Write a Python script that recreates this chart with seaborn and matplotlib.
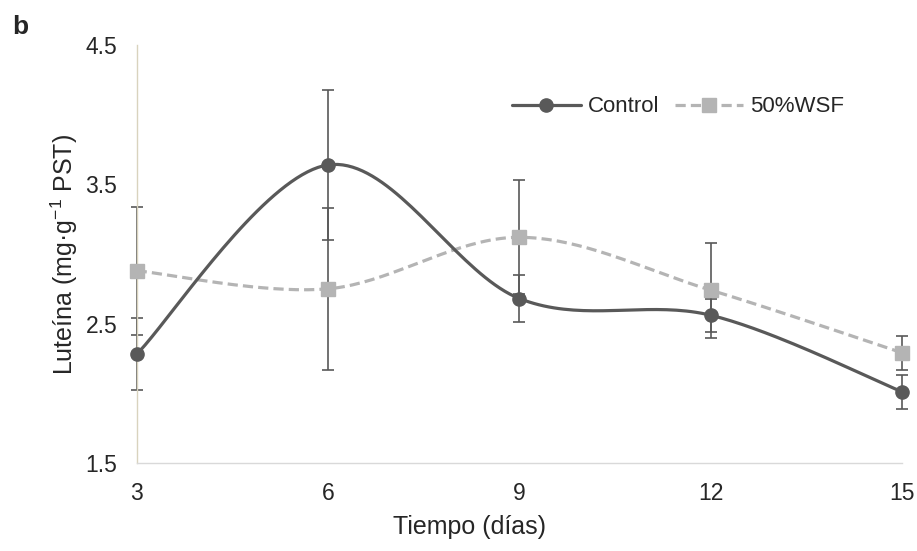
import numpy as np
import matplotlib
matplotlib.use("Agg")
import matplotlib.pyplot as plt
from matplotlib.lines import Line2D
import seaborn as sns

# datos
dias = [3, 6, 9, 12, 15]
control = [2.28, 3.64, 2.68, 2.56, 2.01]
control_err = [0.26, 0.54, 0.17, 0.12, 0.12]
wsf = [2.88, 2.75, 3.12, 2.74, 2.29]
wsf_err = [0.46, 0.58, 0.41, 0.34, 0.12]

COL_CONTROL = "#595959"
COL_WSF = "#b4b4b4"


def suavizar(x, y, n=40):
    # curva Bezier tipo Excel (Catmull-Rom con extremos duplicados)
    x = np.asarray(x, float)
    y = np.asarray(y, float)
    px = np.concatenate([[x[0]], x, [x[-1]]])
    py = np.concatenate([[y[0]], y, [y[-1]]])
    xs, ys = [], []
    t = np.linspace(0, 1, n)
    for i in range(1, len(px) - 2):
        p0 = np.array([px[i], py[i]])
        p3 = np.array([px[i + 1], py[i + 1]])
        p1 = p0 + (p3 - np.array([px[i - 1], py[i - 1]])) / 6
        p2 = p3 - (np.array([px[i + 2], py[i + 2]]) - p0) / 6
        b = (np.outer((1 - t) ** 3, p0) + np.outer(3 * (1 - t) ** 2 * t, p1)
             + np.outer(3 * (1 - t) * t ** 2, p2) + np.outer(t ** 3, p3))
        xs.extend(b[:, 0])
        ys.extend(b[:, 1])
    return np.array(xs), np.array(ys)


sns.set_style("white")
plt.rcParams['font.family'] = ['Liberation Sans', 'DejaVu Sans']
plt.rcParams['mathtext.fontset'] = 'custom'
plt.rcParams['mathtext.rm'] = 'Liberation Sans'

fig, ax = plt.subplots(figsize=(9.17, 5.51), dpi=100)
fig.subplots_adjust(left=0.149, right=0.984, top=0.918, bottom=0.160)

# barras de error
ax.errorbar(dias, wsf, yerr=wsf_err, fmt="none", ecolor=COL_CONTROL,
            elinewidth=1.2, capsize=4.5, capthick=1.2, clip_on=False, zorder=2)
ax.errorbar(dias, control, yerr=control_err, fmt="none", ecolor=COL_CONTROL,
            elinewidth=1.2, capsize=4.5, capthick=1.2, clip_on=False, zorder=2)

# líneas suavizadas
xw, yw = suavizar(dias, wsf)
sns.lineplot(x=xw, y=yw, sort=False, estimator=None, ax=ax, color=COL_WSF,
             linewidth=2.3, zorder=3).lines[-1].set_dashes((3.2, 1.6))
xc, yc = suavizar(dias, control)
sns.lineplot(x=xc, y=yc, sort=False, estimator=None, ax=ax, color=COL_CONTROL,
             linewidth=2.3, zorder=4)

# marcadores
ax.plot(dias, wsf, linestyle="none", marker="s", markersize=9.5,
        color=COL_WSF, clip_on=False, zorder=5)
ax.plot(dias, control, linestyle="none", marker="o", markersize=9.5,
        color=COL_CONTROL, clip_on=False, zorder=6)

ax.set_xlim(3, 15)
ax.set_ylim(1.5, 4.5)
ax.set_xticks(dias)
ax.set_yticks([1.5, 2.5, 3.5, 4.5])
ax.tick_params(axis="both", length=0, labelsize=16.5, pad=14)

for s in ["top", "right"]:
    ax.spines[s].set_visible(False)
ax.spines["left"].set_color("#d9d3be")
ax.spines["bottom"].set_color("#d9d9d9")
ax.spines["left"].set_linewidth(1.0)
ax.spines["bottom"].set_linewidth(1.0)

ax.set_xlabel("Tiempo (días)", fontsize=18, va="center")
ax.xaxis.set_label_coords(0.435, -0.153)
ax.set_ylabel("Luteína (mg·g$^{\\mathregular{-1}}$ PST)", fontsize=18, va="center")
ax.yaxis.set_label_coords(-0.095, 0.5)

fig.text(12 / 917, 1 - 15 / 551, "b", fontsize=19, fontweight="bold", va="top", ha="left")

handles = [
    Line2D([], [], color=COL_CONTROL, linewidth=2.3, marker="o", markersize=9.5),
    Line2D([], [], color=COL_WSF, linewidth=2.3, linestyle=(0, (3.2, 1.6)),
           marker="s", markersize=9.5),
]
fig.legend(handles, ["Control", "50%WSF"], loc="center", ncol=2, frameon=False,
           bbox_to_anchor=(678 / 917, 1 - 107 / 551), fontsize=16,
           handlelength=3.1, handletextpad=0.3, columnspacing=0.7)

fig.savefig("out.png", dpi=100)
